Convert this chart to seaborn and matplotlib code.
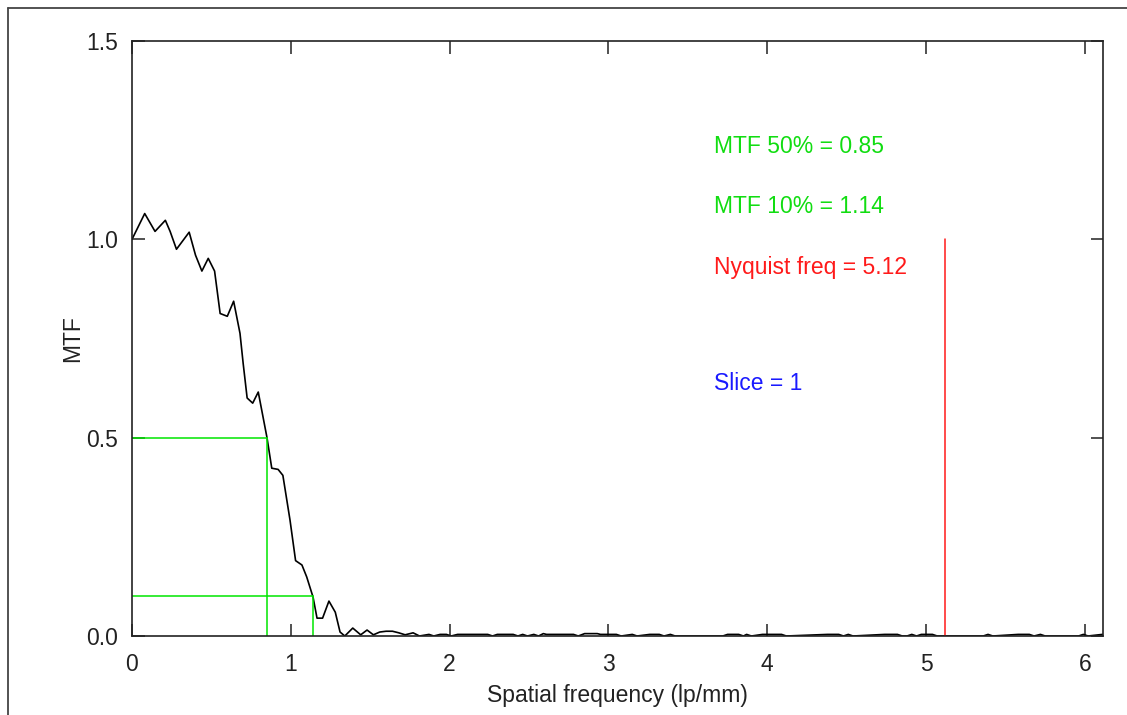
import matplotlib
matplotlib.use("Agg")
import matplotlib.pyplot as plt
from matplotlib.lines import Line2D
import pandas as pd
import seaborn as sns

# MTF curve (lp/mm, MTF)
freq = [0.00, 0.08, 0.145, 0.21, 0.24, 0.28, 0.36, 0.40, 0.44, 0.48, 0.52, 0.555,
        0.60, 0.64, 0.68, 0.70, 0.725, 0.76, 0.795, 0.85, 0.88, 0.92, 0.95, 0.995,
        1.03, 1.07, 1.10, 1.14, 1.165, 1.20, 1.24, 1.28, 1.31, 1.34, 1.39, 1.44,
        1.48, 1.52, 1.56, 1.60, 1.64, 1.68, 1.72, 1.77]
mtf = [1.000, 1.065, 1.020, 1.048, 1.020, 0.975, 1.018, 0.960, 0.920, 0.952, 0.920, 0.813,
       0.806, 0.844, 0.763, 0.687, 0.600, 0.587, 0.615, 0.500, 0.423, 0.420, 0.405, 0.292,
       0.190, 0.179, 0.149, 0.098, 0.045, 0.045, 0.088, 0.060, 0.010, 0.000, 0.020, 0.003,
       0.015, 0.003, 0.010, 0.012, 0.012, 0.008, 0.003, 0.008]

# noise floor beyond ~1.8 lp/mm
tail_freq = [1.81, 1.87, 1.90, 1.94, 1.98, 2.01, 2.05, 2.24, 2.27, 2.30, 2.40, 2.43,
             2.46, 2.49, 2.53, 2.56, 2.59, 2.61, 2.78, 2.81, 2.85, 2.93, 2.95, 3.05,
             3.08, 3.15, 3.18, 3.26, 3.32, 3.35, 3.39, 3.42, 3.72, 3.75, 3.82, 3.85,
             3.87, 3.90, 3.97, 4.09, 4.12, 4.38, 4.45, 4.48, 4.51, 4.54, 4.74, 4.82,
             4.85, 4.88, 4.91, 4.94, 4.97, 5.04, 5.07, 5.36, 5.39, 5.42, 5.58, 5.65,
             5.68, 5.72, 5.75, 5.96, 5.99, 6.02, 6.11]
tail_mtf = [0.0, 0.004, 0.0, 0.004, 0.004, 0.0, 0.004, 0.004, 0.0, 0.004, 0.004, 0.0,
            0.004, 0.0, 0.004, 0.0, 0.006, 0.004, 0.004, 0.0, 0.006, 0.006, 0.004, 0.004,
            0.0, 0.004, 0.0, 0.004, 0.004, 0.0, 0.004, 0.0, 0.0, 0.004, 0.004, 0.0,
            0.004, 0.0, 0.004, 0.004, 0.0, 0.004, 0.004, 0.0, 0.004, 0.0, 0.004, 0.004,
            0.0, 0.0, 0.004, 0.0, 0.004, 0.004, 0.0, 0.0, 0.004, 0.0, 0.004, 0.004,
            0.0, 0.004, 0.0, 0.0, 0.004, 0.0, 0.004]

mtf50 = 0.85
mtf10 = 1.14
nyquist = 5.12
slice_no = 1

df = pd.DataFrame({"freq": freq + tail_freq, "mtf": mtf + tail_mtf})

sns.set_style("ticks")
plt.rcParams["font.family"] = ["Liberation Sans", "DejaVu Sans"]

fig = plt.figure(figsize=(11.27, 7.15), dpi=100)
ax = fig.add_axes([132 / 1127, 79 / 715, 971 / 1127, 595 / 715])

sns.lineplot(data=df, x="freq", y="mtf", color="black", linewidth=1.2,
             sort=False, estimator=None, ax=ax)

green = "#00e600"
ax.plot([0, mtf50], [0.5, 0.5], color=green, lw=1.1)
ax.plot([mtf50, mtf50], [0, 0.5], color=green, lw=1.1)
ax.plot([0, mtf10], [0.1, 0.1], color=green, lw=1.1)
ax.plot([mtf10, mtf10], [0, 0.1], color=green, lw=1.1)
ax.plot([nyquist, nyquist], [0, 1.0], color="#ff1a1a", lw=1.1)

fs = 16.5
ax.text(3.665, 1.234, f"MTF 50% = {mtf50:.2f}", color="#11dd11", fontsize=fs, va="center")
ax.text(3.665, 1.083, f"MTF 10% = {mtf10:.2f}", color="#11dd11", fontsize=fs, va="center")
ax.text(3.665, 0.929, f"Nyquist freq = {nyquist:.2f}", color="#ff1a1a", fontsize=fs, va="center")
ax.text(3.665, 0.637, f"Slice = {slice_no}", color="#1a1aff", fontsize=fs, va="center")

ax.set_xlim(0, 6.114)
ax.set_ylim(0, 1.5)
ax.set_xticks([0, 1, 2, 3, 4, 5, 6])
ax.set_yticks([0.0, 0.5, 1.0, 1.5])
ax.set_yticklabels(["0.0", "0.5", "1.0", "1.5"])
ax.tick_params(direction="in", length=9, width=1.1, top=True, right=True,
               labelsize=fs, colors="#222222", pad=10)
ax.tick_params(axis="x", pad=12)
for s in ax.spines.values():
    s.set_visible(True)
    s.set_linewidth(1.2)
    s.set_color("#222222")

ax.set_xlabel("Spatial frequency (lp/mm)", fontsize=fs, color="#222222", labelpad=6)
ax.set_ylabel("MTF", fontsize=fs, color="#222222")
ax.yaxis.set_label_coords(-48 / 971, 0.5)

# outer panel frame (partly cropped in the screenshot)
fig.add_artist(Line2D([8 / 1127, 1.0], [1 - 8 / 715, 1 - 8 / 715],
                      transform=fig.transFigure, color="#444444", lw=1.3))
fig.add_artist(Line2D([8 / 1127, 8 / 1127], [0.0, 1 - 8 / 715],
                      transform=fig.transFigure, color="#444444", lw=1.3))

fig.savefig("out.png", dpi=100)
